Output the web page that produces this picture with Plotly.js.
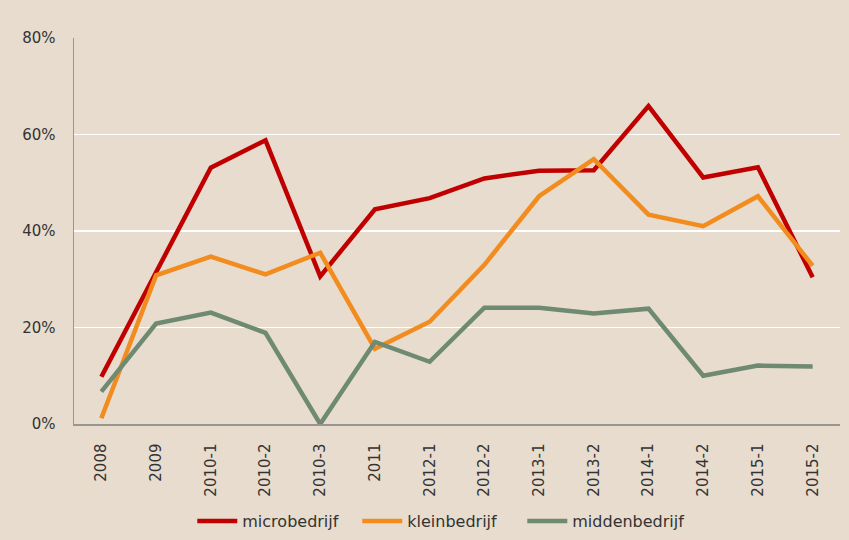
<!DOCTYPE html>
<html>
<head>
<meta charset="utf-8">
<script src="https://cdn.plot.ly/plotly-3.0.1.min.js"></script>
<style>html,body{margin:0;padding:0;background:#E7DCCD;}#chart{width:849px;height:540px;}</style>
</head>
<body>
<div id="chart"></div>
<script>
const categories = ["2008","2009","2010-1","2010-2","2010-3","2011","2012-1","2012-2","2013-1","2013-2","2014-1","2014-2","2015-1","2015-2"];
const microbedrijf = [9.8,31.5,53.1,58.8,30.6,44.5,46.8,50.9,52.5,52.6,65.9,51.1,53.2,30.4];
const kleinbedrijf = [1.2,30.8,34.7,31.0,35.5,15.6,21.2,33.0,47.2,54.9,43.4,41.0,47.2,32.8];
const middenbedrijf = [6.7,20.8,23.1,18.9,0.0,17.0,12.9,24.1,24.1,22.9,23.9,10.0,12.1,11.9];
const yTicks = [0,20,40,60,80];
const yTickLabels = ["0%","20%","40%","60%","80%"];

const mk = (name, y, color) => ({
  type: "scatter", mode: "lines", name: name, x: categories, y: y,
  line: {color: color, width: 4.5}
});

const data = [
  mk("microbedrijf", microbedrijf, "#C00000"),
  mk("kleinbedrijf", kleinbedrijf, "#F28C1F"),
  mk("middenbedrijf", middenbedrijf, "#6E8A72")
];

const layout = {
  width: 849, height: 540,
  paper_bgcolor: "#E7DCCD", plot_bgcolor: "#E7DCCD",
  margin: {l: 74, r: 9, t: 38, b: 116},
  font: {family: "DejaVu Sans, Verdana, sans-serif", size: 15, color: "#333333"},
  showlegend: true,
  legend: {orientation: "h", xref: "container", yref: "container", x: 0.518, xanchor: "center", y: 0.035, yanchor: "middle",
           font: {size: 16, color: "#333333"}, itemwidth: 40, entrywidth: 110, tracegroupgap: 0, bgcolor: "rgba(0,0,0,0)"},
  xaxis: {
    type: "category", tickangle: -90, showgrid: false, zeroline: false, automargin: false,
    showline: true, linecolor: "#9A958E", linewidth: 1.5, ticks: "",
    ticklabelstandoff: 12, tickfont: {size: 15, color: "#333333"},
    range: [-0.5, categories.length - 0.5]
  },
  yaxis: {
    range: [0, 80], tickvals: yTicks, ticktext: yTickLabels, automargin: false,
    showgrid: true, gridcolor: "#FFFFFF", gridwidth: 1.5,
    zeroline: false, showline: true, linecolor: "#9A958E", linewidth: 1.5,
    ticks: "", ticklabelstandoff: 14, tickfont: {size: 15, color: "#333333"}
  }
};

Plotly.newPlot("chart", data, layout, {displayModeBar: false, staticPlot: true});
</script>
</body>
</html>
